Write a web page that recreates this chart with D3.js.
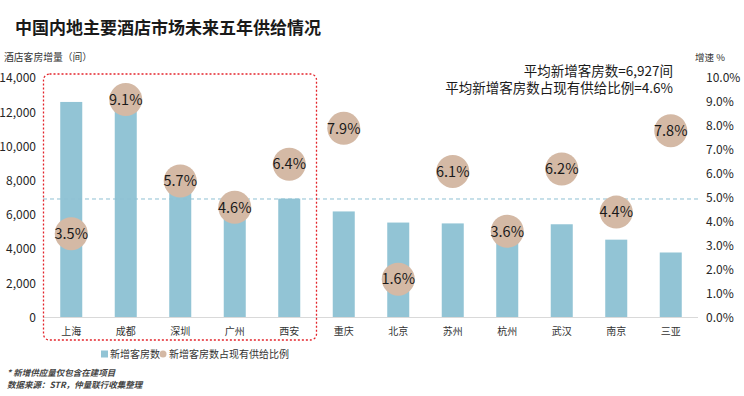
<!DOCTYPE html>
<meta charset="utf-8">
<title>中国内地主要酒店市场未来五年供给情况</title>
<style>
    body {
        margin: 0;
        background: #fff;
    }

    svg text {
        font-family: "Noto Sans CJK SC", "Noto Sans", sans-serif;
    }

    .tick text {
        font-size: 12px;
        fill: #262626;
    }
</style>

<body>
    <div id="my_chart"></div>
    <script src="https://d3js.org/d3.v7.min.js"></script>
    <script>

        // data
        var cities = ["上海", "成都", "深圳", "广州", "西安", "重庆", "北京", "苏州", "杭州", "武汉", "南京", "三亚"];
        var newRooms = [12600, 12100, 7950, 7050, 6950, 6200, 5550, 5500, 5400, 5450, 4550, 3800];
        var shareOfSupply = [0.035, 0.091, 0.057, 0.046, 0.064, 0.079, 0.016, 0.061, 0.036, 0.062, 0.044, 0.078];
        var roomTicks = [0, 2000, 4000, 6000, 8000, 10000, 12000, 14000];
        var pctTicks = [0, 0.01, 0.02, 0.03, 0.04, 0.05, 0.06, 0.07, 0.08, 0.09, 0.10];
        var avgRooms = 6927;
        var avgShare = 0.046;
        var highlighted = ["上海", "成都", "深圳", "广州", "西安"];

        var width = 744, height = 396;

        var svg = d3.select("#my_chart")
            .append("svg")
            .attr("width", width)
            .attr("height", height);

        // scales
        var x = d3.scaleBand()
            .domain(cities)
            .range([44, 698])
            .paddingInner(0.596)
            .paddingOuter(0.298);
        var y0 = d3.scaleLinear().domain([0, 14000]).range([317.5, 78]);
        var y1 = d3.scaleLinear().domain([0, 0.10]).range([317.5, 78]);

        // title
        svg.append("text")
            .attr("x", 15)
            .attr("y", 34)
            .attr("font-size", "17px")
            .attr("font-weight", "bold")
            .attr("fill", "#1a1a1a")
            .text("中国内地主要酒店市场未来五年供给情况");

        // axis titles
        svg.append("text")
            .attr("x", 4)
            .attr("y", 61)
            .attr("font-size", "9.8px")
            .attr("fill", "#333")
            .text("酒店客房增量（间）");

        svg.append("text")
            .attr("x", 695)
            .attr("y", 61)
            .attr("font-size", "9.5px")
            .attr("fill", "#333")
            .text("增速 %");

        // left axis
        svg.append("g")
            .attr("transform", "translate(44,0)")
            .call(d3.axisLeft(y0).tickValues(roomTicks).tickSize(0).tickPadding(8).tickFormat(d3.format(",")))
            .call(function (g) { g.select(".domain").remove(); });

        // right axis
        svg.append("g")
            .attr("transform", "translate(698,0)")
            .call(d3.axisRight(y1).tickValues(pctTicks).tickSize(0).tickPadding(8).tickFormat(d3.format(".1%")))
            .call(function (g) { g.select(".domain").remove(); });

        // bars
        svg.selectAll(".bar")
            .data(cities)
            .enter().append("rect")
            .attr("class", "bar")
            .attr("x", function (d) { return x(d); })
            .attr("width", x.bandwidth())
            .attr("y", function (d, i) { return y0(newRooms[i]); })
            .attr("height", function (d, i) { return y0(0) - y0(newRooms[i]); })
            .attr("fill", "#92c4d5");

        // baseline
        svg.append("line")
            .attr("x1", 43).attr("x2", 698)
            .attr("y1", y0(0)).attr("y2", y0(0))
            .attr("stroke", "#d9d9d9")
            .attr("stroke-width", 1);

        // average line
        svg.append("line")
            .attr("x1", 43).attr("x2", 698)
            .attr("y1", y0(avgRooms)).attr("y2", y0(avgRooms))
            .attr("stroke", "#8fc0d3")
            .attr("stroke-width", 1)
            .attr("stroke-dasharray", "4,3");

        // category labels
        svg.append("g")
            .selectAll("text")
            .data(cities)
            .enter().append("text")
            .attr("x", function (d) { return x(d) + x.bandwidth() / 2; })
            .attr("y", 335)
            .attr("text-anchor", "middle")
            .attr("font-size", "10px")
            .attr("fill", "#333")
            .text(function (d) { return d; });

        // highlight box round the top five markets
        var first = highlighted[0], last = highlighted[highlighted.length - 1];
        var boxLeft = x(first) - x.step() * x.paddingInner() / 2 - 0.5;
        var boxRight = x(last) + x.bandwidth() + x.step() * x.paddingInner() / 2;
        svg.append("rect")
            .attr("x", boxLeft)
            .attr("y", 74)
            .attr("width", boxRight - boxLeft)
            .attr("height", 266)
            .attr("rx", 6)
            .attr("fill", "none")
            .attr("stroke", "#e3242b")
            .attr("stroke-width", 1.3)
            .attr("stroke-dasharray", "2,2");

        // bubbles
        var bubbles = svg.selectAll(".bubble")
            .data(cities)
            .enter().append("g")
            .attr("class", "bubble")
            .attr("transform", function (d, i) {
                return "translate(" + (x(d) + x.bandwidth() / 2) + "," + y1(shareOfSupply[i]) + ")";
            });
        bubbles.append("circle")
            .attr("r", 16.5)
            .attr("fill", "#d4b9a5");
        bubbles.append("text")
            .attr("text-anchor", "middle")
            .attr("dy", "0.36em")
            .attr("font-size", "14.5px")
            .attr("fill", "#1a1a1a")
            .text(function (d, i) { return d3.format(".1%")(shareOfSupply[i]); });

        // annotation
        svg.append("text")
            .attr("x", 673).attr("y", 76)
            .attr("text-anchor", "end")
            .attr("font-size", "13.5px")
            .attr("fill", "#1a1a1a")
            .text("平均新增客房数=" + d3.format(",")(avgRooms) + "间");
        svg.append("text")
            .attr("x", 673).attr("y", 93)
            .attr("text-anchor", "end")
            .attr("font-size", "13.5px")
            .attr("fill", "#1a1a1a")
            .text("平均新增客房数占现有供给比例=" + d3.format(".1%")(avgShare));

        // legend
        var legend = svg.append("g").attr("transform", "translate(0,354)");
        legend.append("rect")
            .attr("x", 101).attr("y", -3.5)
            .attr("width", 7).attr("height", 7)
            .attr("fill", "#92c4d5");
        legend.append("text")
            .attr("x", 110).attr("dy", "0.35em")
            .attr("font-size", "10px").attr("fill", "#333")
            .text("新增客房数");
        legend.append("circle")
            .attr("cx", 163).attr("r", 3.5)
            .attr("fill", "#d4b9a5");
        legend.append("text")
            .attr("x", 169).attr("dy", "0.35em")
            .attr("font-size", "10px").attr("fill", "#333")
            .text("新增客房数占现有供给比例");

        // footnotes
        svg.append("text")
            .attr("x", 7).attr("y", 376)
            .attr("font-size", "8.5px").attr("font-style", "italic").attr("font-weight", "bold").attr("fill", "#444")
            .text("* 新增供应量仅包含在建项目");
        svg.append("text")
            .attr("x", 7).attr("y", 388)
            .attr("font-size", "8.5px").attr("font-style", "italic").attr("font-weight", "bold").attr("fill", "#444")
            .text("数据来源：STR，仲量联行收集整理");

    </script>
</body>
